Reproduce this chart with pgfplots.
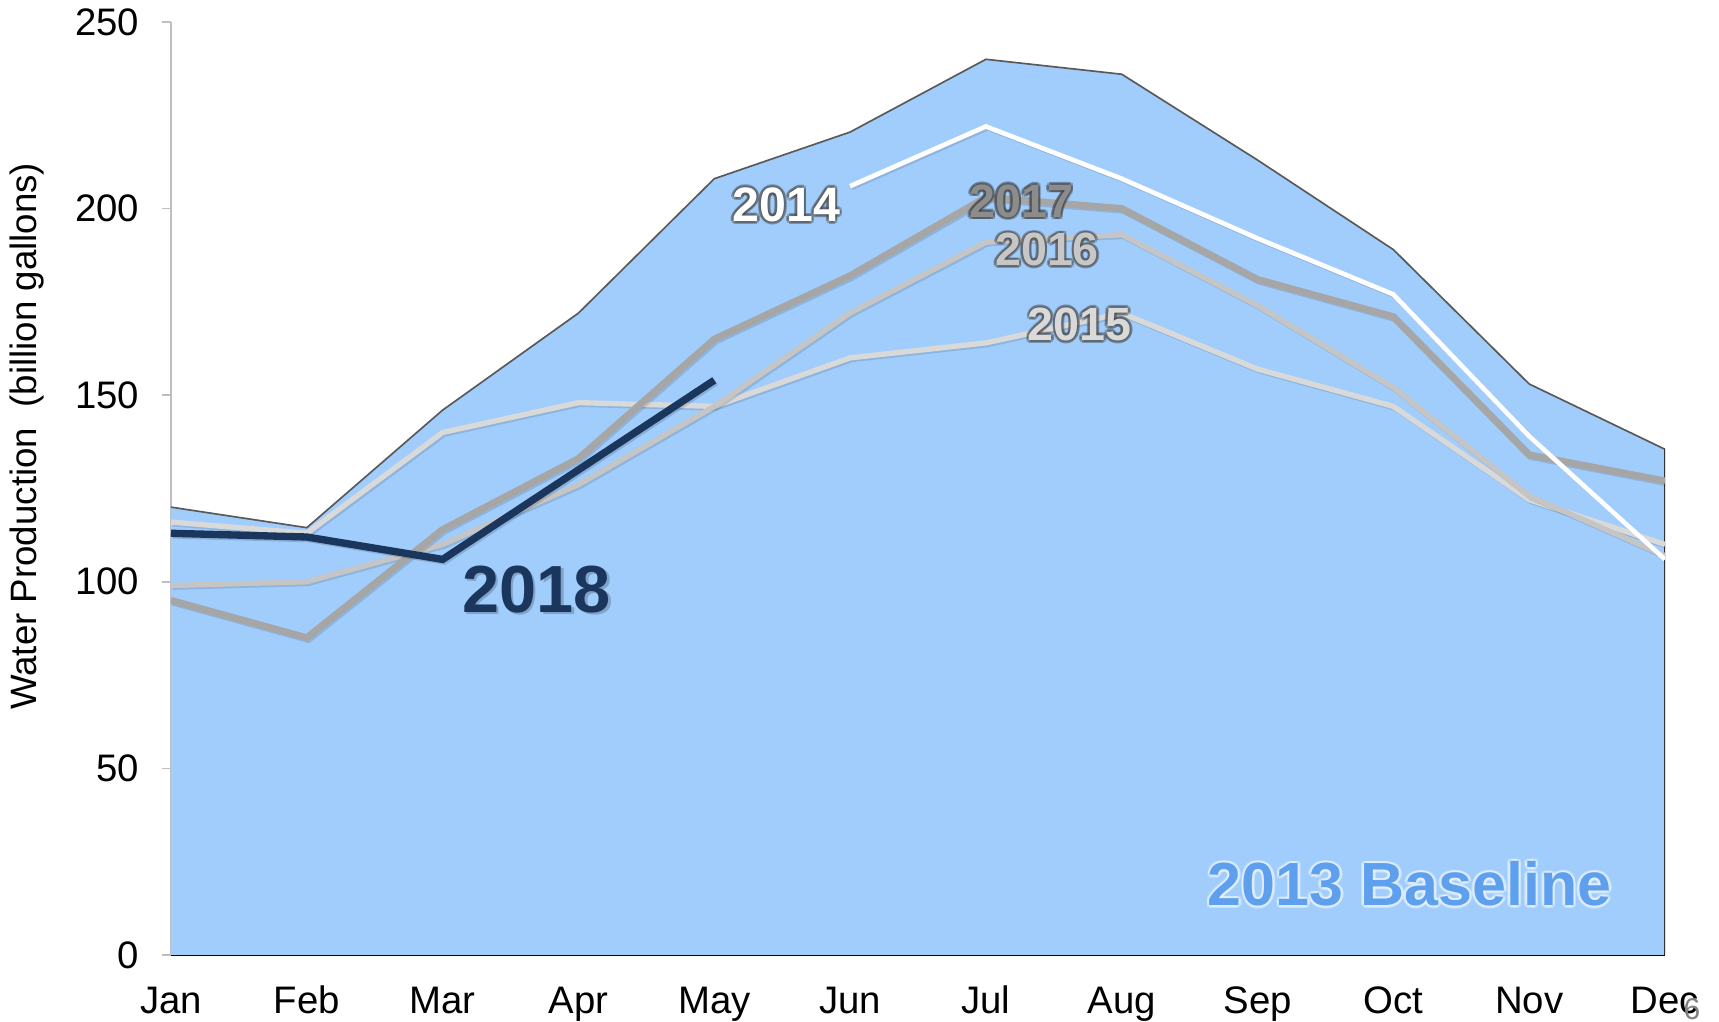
\documentclass[border=0pt]{standalone}
\usepackage{fontspec}
\setmainfont{Liberation Sans}
\usepackage{pgfplots}
\pgfplotsset{compat=1.18}
\definecolor{areablue}{RGB}{160,205,252}
\definecolor{areaedge}{RGB}{89,89,89}
\definecolor{axisgrey}{RGB}{191,191,191}
\definecolor{g17}{RGB}{166,166,166}
\definecolor{g16}{RGB}{197,197,197}
\definecolor{g15}{RGB}{217,217,217}
\definecolor{navy}{RGB}{27,54,93}
\definecolor{basetext}{RGB}{95,160,238}
\newcommand{\glowtext}[6]{%
  \node[font=#3,text=#5,opacity=0.45] at ([shift={(0.8pt,0pt)}]axis cs:#1,#2) {#6};
  \node[font=#3,text=#5,opacity=0.45] at ([shift={(-0.8pt,0pt)}]axis cs:#1,#2) {#6};
  \node[font=#3,text=#5,opacity=0.45] at ([shift={(0pt,0.8pt)}]axis cs:#1,#2) {#6};
  \node[font=#3,text=#5,opacity=0.45] at ([shift={(0pt,-0.8pt)}]axis cs:#1,#2) {#6};
  \node[font=#3,text=#5,opacity=0.35] at ([shift={(0.6pt,0.6pt)}]axis cs:#1,#2) {#6};
  \node[font=#3,text=#5,opacity=0.35] at ([shift={(-0.6pt,0.6pt)}]axis cs:#1,#2) {#6};
  \node[font=#3,text=#5,opacity=0.35] at ([shift={(0.6pt,-0.6pt)}]axis cs:#1,#2) {#6};
  \node[font=#3,text=#5,opacity=0.35] at ([shift={(-0.6pt,-0.6pt)}]axis cs:#1,#2) {#6};
  \node[font=#3,text=#4] at (axis cs:#1,#2) {#6};
}
\begin{document}
\begin{tikzpicture}
\path[use as bounding box] (-51.3pt,-20.1pt) rectangle (464.4pt,286.5pt);
\begin{axis}[
  at={(0pt,0pt)}, anchor=south west,
  scale only axis, width=448.2pt, height=279.9pt,
  xmin=0, xmax=11, ymin=0, ymax=250,
  axis lines=left, axis line style={-},
  x axis line style={black, line width=0.6pt},
  y axis line style={color=axisgrey, line width=0.5pt},
  xtick={0,1,2,3,4,5,6,7,8,9,10,11},
  xticklabels={Jan,Feb,Mar,Apr,May,Jun,Jul,Aug,Sep,Oct,Nov,Dec},
  ytick={0,50,100,150,200,250},
  tick align=outside, major tick length=2.7pt,
  y tick style={color=axisgrey, line width=0.5pt},
  x tick style={draw=none},
  tick label style={font=\fontsize{11.5}{13}\selectfont},
  /pgf/number format/assume math mode=true,
  yticklabel style={xshift=-3.3pt},
  xticklabel style={text height=0.8em, text depth=0.22em, yshift=-3.4pt},
  ylabel={Water Production\ \ (billion gallons)},
  ylabel style={at={(axis description cs:-0.0964,0.556)}, anchor=center, font=\fontsize{11}{13}\selectfont},
  clip mode=individual,
]
% 2013 baseline area
\addplot[fill=areablue, draw=none] coordinates {
(0,120) (1,114.5) (2,146) (3,172) (4,208) (5,220.5) (6,240) (7,236) (8,213) (9,189) (10,153) (11,135.5)
} \closedcycle;
\addplot[areaedge, line width=0.5pt] coordinates {
(0,120) (1,114.5) (2,146) (3,172) (4,208) (5,220.5) (6,240) (7,236) (8,213) (9,189) (10,153) (11,135.5)
};
\addplot[black!80, line width=0.8pt] coordinates {(11,0) (11,135.5)};
% 2015
\addplot[g15, line width=1.6pt, preaction={draw=black, opacity=0.12, transform canvas={xshift=0.5pt,yshift=-0.5pt}}] coordinates {
(0,116) (1,113) (2,140) (3,148) (4,147) (5,160) (6,164) (7,172) (8,157) (9,147) (10,122) (11,110)
};
% 2016
\addplot[g16, line width=1.6pt, preaction={draw=black, opacity=0.12, transform canvas={xshift=0.5pt,yshift=-0.5pt}}] coordinates {
(0,99) (1,100) (2,110) (3,126) (4,147) (5,172) (6,191) (7,193) (8,174) (9,152) (10,123) (11,107)
};
% 2017
\addplot[g17, line width=2.1pt, preaction={draw=black, opacity=0.12, transform canvas={xshift=0.5pt,yshift=-0.5pt}}] coordinates {
(0,95) (1,85) (2,114) (3,133) (4,165) (5,182) (6,203) (7,200) (8,181) (9,171) (10,134) (11,127)
};
% 2014
\addplot[white, line width=1.4pt, preaction={draw=black, opacity=0.12, transform canvas={xshift=0.5pt,yshift=-0.5pt}}] coordinates {
(5,206) (6,222) (7,208) (8,192) (9,177) (10,139) (11,106)
};
% 2018
\addplot[navy, line width=2.2pt, preaction={draw=black, opacity=0.15, transform canvas={xshift=0.5pt,yshift=-0.5pt}}] coordinates {
(0,113) (1,112) (2,106) (3,130) (4,154)
};
% labels
\glowtext{4.53}{201}{\bfseries\fontsize{14.5}{14.5}\selectfont}{white}{black!70}{2014}
\glowtext{6.26}{202}{\bfseries\fontsize{14}{14}\selectfont}{black!45}{black!75}{2017}
\glowtext{6.45}{189}{\bfseries\fontsize{14}{14}\selectfont}{black!22}{black!70}{2016}
\glowtext{6.69}{169}{\bfseries\fontsize{14}{14}\selectfont}{black!15}{black!70}{2015}
\node[font=\bfseries\fontsize{20}{20}\selectfont, text=black, opacity=0.2] at ([shift={(0.8pt,-0.8pt)}]axis cs:2.69,98) {2018};
\node[font=\bfseries\fontsize{20}{20}\selectfont, text=navy] at (axis cs:2.69,98) {2018};
\glowtext{9.12}{19}{\bfseries\fontsize{18.3}{18.3}\selectfont}{basetext}{white!85!areablue}{2013 Baseline}
\node[font=\fontsize{9}{9}\selectfont, text=black!50] at (rel axis cs:1.018,-0.058) {6};
\end{axis}
\end{tikzpicture}
\end{document}
